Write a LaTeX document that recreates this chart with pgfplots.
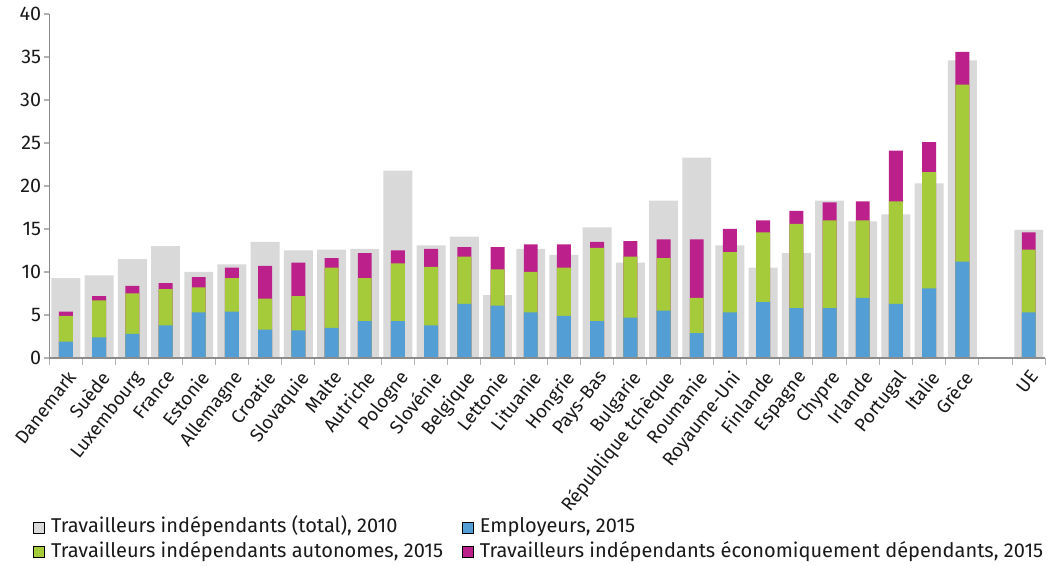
\documentclass[border=0pt]{standalone}
\usepackage{fontspec}
\setmainfont{Fira Sans}
\usepackage{pgfplots}
\pgfplotsset{compat=1.18}
\usepackage{pgfplotstable}
\definecolor{cgray}{RGB}{217,217,217}
\definecolor{cblue}{RGB}{83,158,213}
\definecolor{cgreen}{RGB}{165,203,58}
\definecolor{cmag}{RGB}{187,32,139}
% gray = total 2010; blue = employeurs 2015; green = top of autonomes; mag = top of econ. dependants
\pgfplotstableread{
x gray blue green mag
0 9.3 1.9 4.9 5.4
1 9.6 2.4 6.7 7.2
2 11.5 2.8 7.5 8.4
3 13.0 3.8 8.0 8.7
4 10.0 5.3 8.2 9.4
5 10.9 5.4 9.3 10.5
6 13.5 3.3 6.9 10.7
7 12.5 3.2 7.2 11.1
8 12.6 3.5 10.5 11.6
9 12.7 4.3 9.3 12.2
10 21.8 4.3 11.0 12.5
11 13.1 3.8 10.6 12.7
12 14.1 6.3 11.8 12.9
13 7.3 6.1 10.3 12.9
14 12.7 5.3 10.0 13.2
15 12.0 4.9 10.5 13.2
16 15.2 4.3 12.8 13.5
17 11.1 4.7 11.8 13.6
18 18.3 5.5 11.6 13.8
19 23.3 2.9 7.0 13.8
20 13.1 5.3 12.3 15.0
21 10.5 6.5 14.6 16.0
22 12.2 5.8 15.6 17.1
23 18.3 5.8 16.0 18.1
24 15.9 7.0 16.0 18.2
25 16.7 6.3 18.2 24.1
26 20.3 8.1 21.6 25.1
27 34.6 11.2 31.8 35.6
29 14.9 5.3 12.6 14.6
}\data
\begin{document}
\begin{tikzpicture}
\begin{axis}[
  at={(0,0)}, anchor=south west,
  scale only axis, width=747pt, height=258pt,
  xmin=-0.5, xmax=29.5, ymin=0, ymax=40,
  axis on top,
  axis x line*=bottom, axis y line*=left,
  axis line style={draw=black!45, line width=0.8pt},
  ytick={0,5,...,40},
  xtick={0,...,27,29},
  xticklabels={Danemark,Suède,Luxembourg,France,Estonie,Allemagne,Croatie,Slovaquie,Malte,Autriche,Pologne,Slovénie,Belgique,Lettonie,Lituanie,Hongrie,Pays-Bas,Bulgarie,République tchèque,Roumanie,Royaume-Uni,Finlande,Espagne,Chypre,Irlande,Portugal,Italie,Grèce,UE},
  minor xtick={-0.5,0.5,...,29.5},
  tick align=outside,
  major x tick style={draw=none},
  minor x tick style={draw=black!30, line width=0.8pt},
  minor tick length=5pt,
  major y tick style={draw=black!30, line width=0.8pt},
  major tick length=4pt,
  /pgf/number format/assume math mode=true,
  tick label style={font=\fontsize{14.8}{17}\selectfont, text=black!90},
  xticklabel style={font=\fontsize{14}{17}\selectfont, xshift=0pt, yshift=-4pt, rotate=52, anchor=north east, inner sep=0pt},
  yticklabel style={inner sep=2pt, xshift=0pt},
  ybar, bar shift=0pt,
  legend columns=2,
  legend cell align=left,
  legend style={at={(axis description cs:-0.0164,-0.462)}, anchor=north west,
    draw=none, fill=none, inner sep=0pt, outer sep=0pt,
    font=\fontsize{15}{17}\selectfont, text=black!90,
    nodes={inner sep=1pt, text height=11pt, text depth=3pt},
    row sep=2.2pt,
    /tikz/every odd column/.append style={column sep=4pt},
    /tikz/every even column/.append style={column sep=13pt}},
  legend image code/.code={\fill[#1] (0pt,-4.1pt) rectangle (8.2pt,4.1pt);},
]
\addlegendimage{fill=cgray}
\addlegendentry{Travailleurs indépendants (total), 2010}
\addlegendimage{fill=cblue}
\addlegendentry{Employeurs, 2015}
\addlegendimage{fill=cgreen}
\addlegendentry{Travailleurs indépendants autonomes, 2015}
\addlegendimage{fill=cmag}
\addlegendentry{Travailleurs indépendants économiquement dépendants, 2015}
\addplot[forget plot, fill=cgray, draw=none, bar width=0.87] table[x=x,y=gray] {\data};
\addplot[forget plot, fill=cmag, draw=none, bar width=0.42] table[x=x,y=mag] {\data};
\addplot[forget plot, fill=cgreen, draw=none, bar width=0.42] table[x=x,y=green] {\data};
\addplot[forget plot, fill=cblue, draw=none, bar width=0.42] table[x=x,y=blue] {\data};
\end{axis}
\pgfresetboundingbox
\path (-37pt,-156pt) rectangle (755pt,268.5pt);
\end{tikzpicture}
\end{document}
